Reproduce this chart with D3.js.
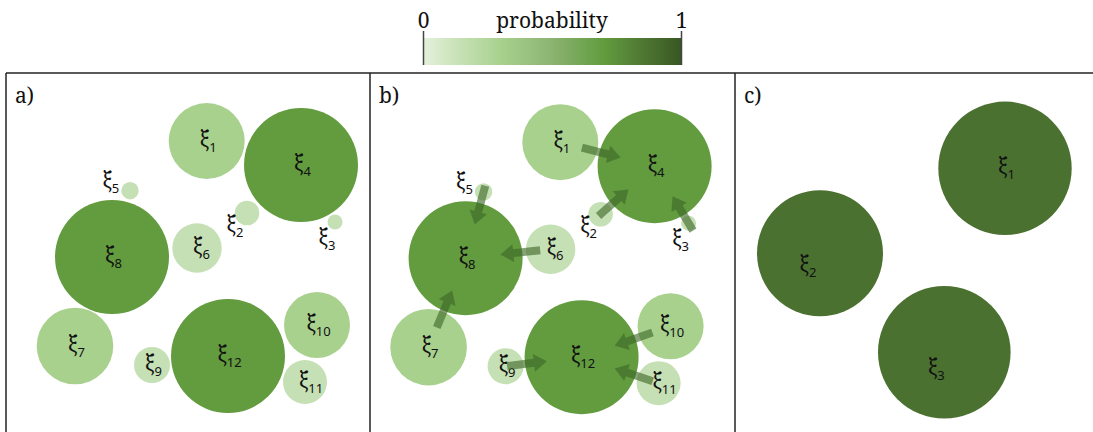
<!DOCTYPE html>
<html>
<head>
<meta charset="utf-8">
<script src="https://cdn.jsdelivr.net/npm/d3@7"></script>
<style>
  html, body { margin: 0; padding: 0; background: #fff; }
  svg { display: block; }
  .serif { font-family: "Noto Serif", "Liberation Serif", serif; fill: #111; }
  .greek { font-family: "Noto Serif", "DejaVu Serif", serif; }
  .sub   { font-family: "Noto Sans", "Liberation Sans", sans-serif; }
</style>
</head>
<body>
<svg id="chart" width="1093" height="432"></svg>
<script>
// ---- data ---------------------------------------------------------------
// Nodes of the fine partition (panels a and b), in panel units
const nodeIds   = [1, 2, 3, 4, 5, 6, 7, 8, 9, 10, 11, 12];
const nodeX     = [200.7, 241, 329, 295, 124, 191, 69, 106, 146, 311, 299, 222];
const nodeY     = [68, 140, 149, 92, 117.7, 175, 273, 184, 292, 252, 309, 283];
const nodeSize  = [38, 12.3, 7.5, 57, 8.7, 24.7, 38.3, 57, 18, 33, 22, 57];
const nodeProb  = [0.3, 0.15, 0.15, 0.7, 0.15, 0.15, 0.3, 0.7, 0.15, 0.3, 0.15, 0.7];

// Merges shown in panel b (source node -> target node)
const arrowFrom = [1, 5, 6, 2, 3, 7, 9, 10, 11];
const arrowTo   = [4, 8, 8, 4, 4, 8, 12, 12, 12];

// Coarse partition (panel c)
const coarseIds  = [1, 2, 3];
const coarseX    = [270, 85, 209.3];
const coarseY    = [95.3, 180.3, 279.3];
const coarseSize = [66.7, 63, 66.3];
const coarseProb = [0.88, 0.88, 0.88];

// Colour bar
const probTicks  = [0, 1];
const probStops  = [0, 0.15, 0.3, 0.5, 0.7, 0.88, 1];
const probColors = ["#e4f1dc", "#c5e0b4", "#a9d18e", "#8bb371", "#629c3f", "#4b7130", "#385723"];
const panelNames = ["a)", "b)", "c)"];

// ---- setup ---------------------------------------------------------------
const svg = d3.select("#chart");
const color = d3.scaleLinear().domain(probStops).range(probColors);

// ---- colour bar ------------------------------------------------------------
const barX = d3.scaleLinear().domain([0, 1]).range([423, 681]);
const defs = svg.append("defs");
const grad = defs.append("linearGradient").attr("id", "probGrad")
  .attr("x1", "0%").attr("x2", "100%").attr("y1", "0%").attr("y2", "0%");
d3.range(0, 1.0001, 0.05).forEach(t => {
  grad.append("stop").attr("offset", (t * 100) + "%").attr("stop-color", color(t));
});
svg.append("rect")
  .attr("x", barX(0)).attr("y", 38)
  .attr("width", barX(1) - barX(0)).attr("height", 27)
  .attr("fill", "url(#probGrad)");

const barAxis = d3.axisTop(barX).tickValues(probTicks).tickFormat(d3.format("d"))
  .tickSize(34).tickPadding(4);
const barG = svg.append("g").attr("transform", "translate(0,65)").call(barAxis)
  .attr("font-family", null).attr("font-size", null);
barG.select(".domain").remove();
barG.selectAll(".tick line").attr("stroke", "#444").attr("stroke-width", 1.5);
barG.selectAll(".tick text")
  .attr("class", "serif").style("font-size", "21px")
  .attr("y", -37).attr("dy", 0);
svg.append("text")
  .attr("class", "serif").style("font-size", "21px")
  .attr("x", (barX(0) + barX(1)) / 2).attr("y", 28)
  .attr("text-anchor", "middle")
  .text("probability");

// ---- panel frames ------------------------------------------------------------
const frameTop = 73;
const panelLeft = [6, 370, 735];
svg.append("line")
  .attr("x1", panelLeft[0]).attr("x2", 1093).attr("y1", frameTop).attr("y2", frameTop)
  .attr("stroke", "#222").attr("stroke-width", 1.5);
panelLeft.forEach((px, i) => {
  svg.append("line")
    .attr("x1", px).attr("x2", px).attr("y1", frameTop).attr("y2", 432)
    .attr("stroke", "#222").attr("stroke-width", 1.5);
  svg.append("text")
    .attr("class", "serif").style("font-size", "21px")
    .attr("x", px + 9).attr("y", frameTop + 30)
    .text(panelNames[i]);
});

// Label placement relative to each node (ids 2, 3, 5 sit outside their circle)
function labelPlacement(id, cx, cy, r) {
  if (id === 5) return { x: cx - r - 2, y: cy - 3, anchor: "end" };
  if (id === 2) return { x: cx - 12, y: cy + 19, anchor: "middle" };
  if (id === 3) return { x: cx - 8, y: cy + 23, anchor: "middle" };
  const shift = { 6: 4.5, 11: 6 }[id] || 1.5;
  return { x: cx + shift, y: cy + 6, anchor: "middle" };
}

function drawLabel(g, id, cx, cy, r) {
  const p = labelPlacement(id, cx, cy, r);
  const t = g.append("text")
    .attr("x", p.x).attr("y", p.y)
    .attr("text-anchor", p.anchor)
    .attr("fill", "#111");
  t.append("tspan").attr("class", "greek").style("font-size", "21px").text("ξ");
  t.append("tspan").attr("class", "sub").style("font-size", "13px")
    .attr("dy", 5).text(id);
}

function drawNodes(g, xs, ys, ids, sizes, probs, sx, sy) {
  const data = ids.map((id, i) => ({ id, x: xs[i], y: ys[i], r: sizes[i], p: probs[i] }));
  g.selectAll("circle.node").data(data).join("circle")
    .attr("class", "node")
    .attr("cx", d => sx(d.x)).attr("cy", d => sy(d.y))
    .attr("r", d => d.r)
    .attr("fill", d => color(d.p));
  return data;
}

// ---- panel a -------------------------------------------------------------
const ax = d3.scaleLinear().domain([0, 360]).range([6, 366]);
const ay = d3.scaleLinear().domain([0, 359]).range([73, 432]);
const gA = svg.append("g");
const dataA = drawNodes(gA, nodeX, nodeY, nodeIds, nodeSize, nodeProb, ax, ay);
dataA.forEach(d => drawLabel(gA, d.id, ax(d.x), ay(d.y), d.r));

// ---- panel b -------------------------------------------------------------
const bx = d3.scaleLinear().domain([0, 360]).range([359.6, 719.6]);
const by = d3.scaleLinear().domain([0, 359]).range([74.2, 433.2]);
const gB = svg.append("g");
const dataB = drawNodes(gB, nodeX, nodeY, nodeIds, nodeSize, nodeProb, bx, by);
dataB.forEach(d => drawLabel(gB, d.id, bx(d.x), by(d.y), d.r));

// merge arrows: fixed length, stopping short of the target centre
const arrowLen = 40, arrowGap = 35, shaftW = 8, headW = 18, headL = 13;
const byId = new Map(dataB.map(d => [d.id, d]));
const arrowPath = (s, t) => {
  const x0 = bx(s.x), y0 = by(s.y), x1 = bx(t.x), y1 = by(t.y);
  const dist = Math.hypot(x1 - x0, y1 - y0);
  const ux = (x1 - x0) / dist, uy = (y1 - y0) / dist;
  const nx = -uy, ny = ux;
  const tipD = dist - arrowGap, startD = tipD - arrowLen, neckD = tipD - headL;
  const pt = (d, w) => [x0 + ux * d + nx * w, y0 + uy * d + ny * w];
  const pts = [
    pt(startD, shaftW / 2), pt(neckD, shaftW / 2), pt(neckD, headW / 2),
    pt(tipD, 0),
    pt(neckD, -headW / 2), pt(neckD, -shaftW / 2), pt(startD, -shaftW / 2)
  ];
  return d3.line()(pts) + "Z";
};
gB.selectAll("path.arrow")
  .data(arrowFrom.map((f, i) => ({ s: byId.get(f), t: byId.get(arrowTo[i]) })))
  .join("path")
  .attr("class", "arrow")
  .attr("d", d => arrowPath(d.s, d.t))
  .attr("fill", "#3d6826")
  .attr("fill-opacity", 0.62);

// ---- panel c -------------------------------------------------------------
const cxs = d3.scaleLinear().domain([0, 358]).range([735, 1093]);
const cys = d3.scaleLinear().domain([0, 359]).range([73, 432]);
const gC = svg.append("g");
const dataC = drawNodes(gC, coarseX, coarseY, coarseIds, coarseSize, coarseProb, cxs, cys);
dataC.forEach(d => drawLabel(gC, d.id, cxs(d.x), cys(d.y), d.r));
</script>
</body>
</html>
